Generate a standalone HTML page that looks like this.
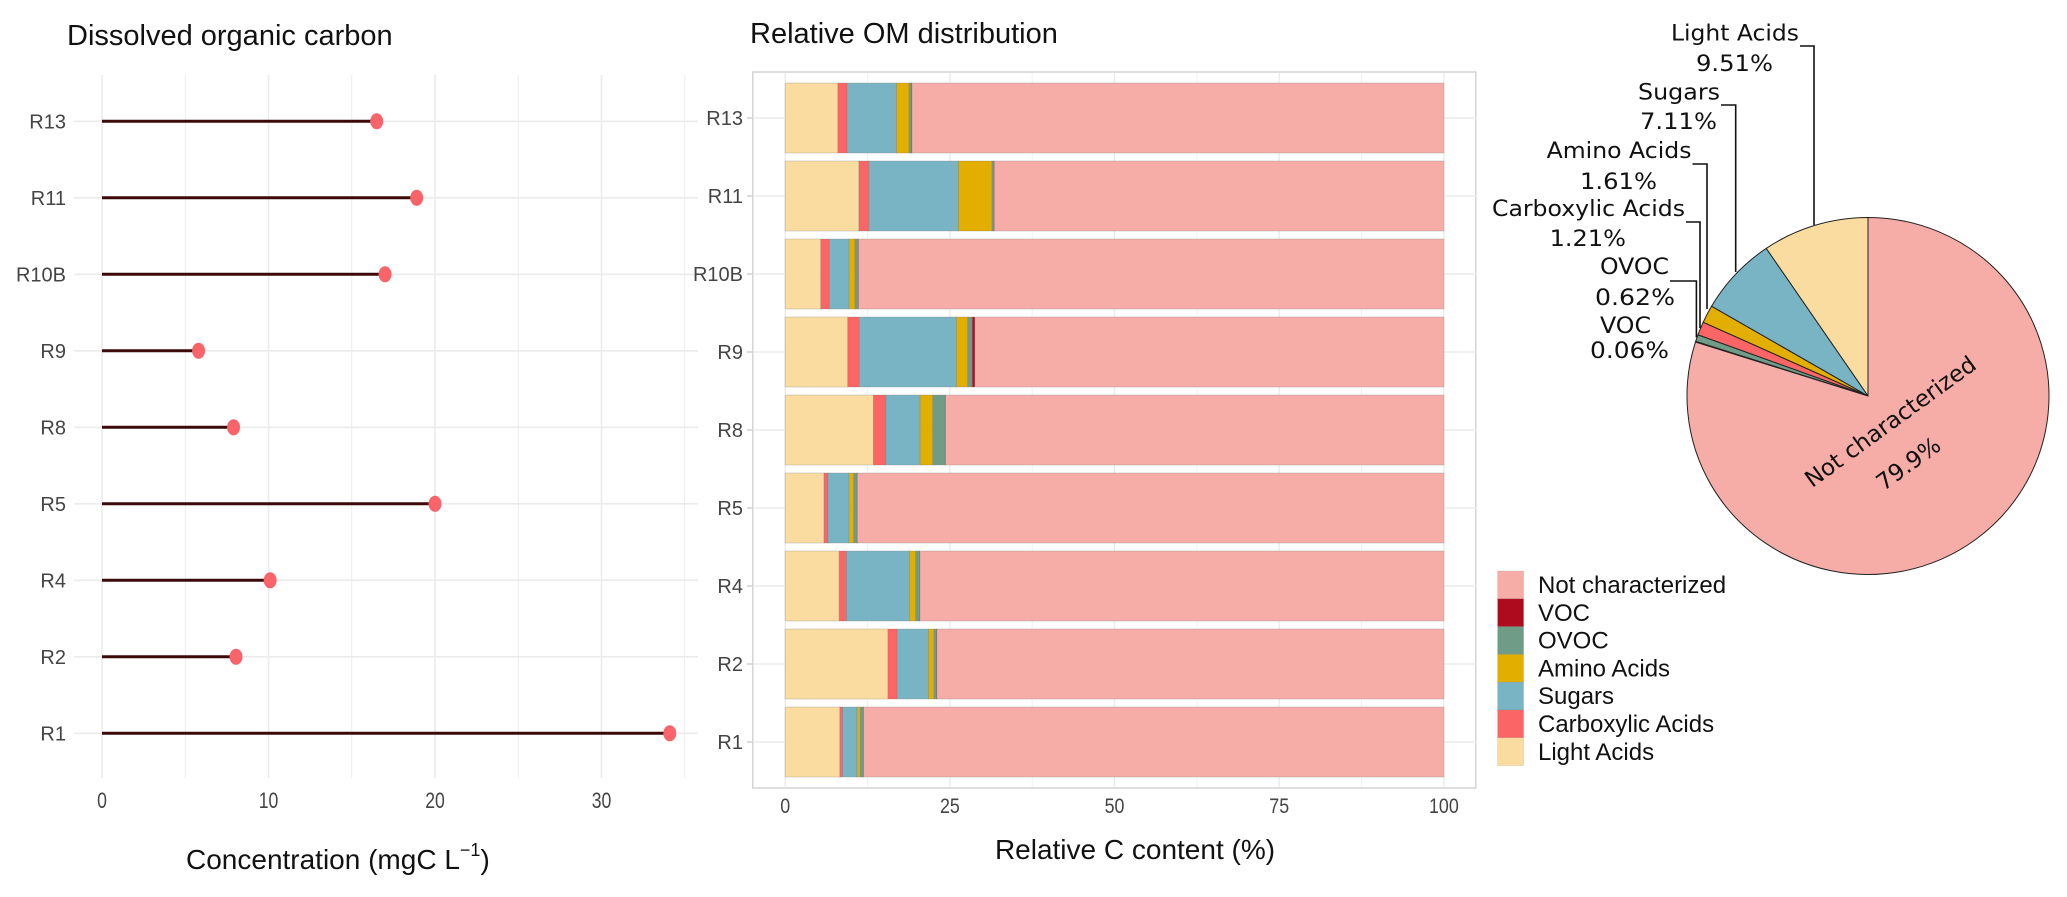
<!DOCTYPE html>
<html><head><meta charset="utf-8"><style>
html,body{margin:0;padding:0;background:#fff;}
svg{display:block;}
</style></head><body>
<svg id="root" xmlns="http://www.w3.org/2000/svg" width="2067" height="897" viewBox="0 0 2067 897" font-family="Liberation Sans, sans-serif">
<rect width="2067" height="897" fill="#fff"/>
<g id="left"></g>
<g id="mid"></g>
<g id="pie"></g>
</svg>
<script>
// ---- data ----
const sites = ["R13","R11","R10B","R9","R8","R5","R4","R2","R1"];
const docValues = [16.5,18.9,17.0,5.8,7.9,20.0,10.1,8.05,34.1];
const docTicks = [0,10,20,30];

const lightAcids = [8.0,11.2,5.4,9.5,13.4,5.9,8.2,15.6,8.3];
const carboxylic = [1.4,1.5,1.3,1.75,1.9,0.6,1.1,1.4,0.4];
const sugars = [7.5,13.6,3.0,14.75,5.2,3.2,9.6,4.75,2.2];
const aminoAcids = [1.9,5.1,0.9,1.7,1.9,0.7,0.9,0.85,0.5];
const ovoc = [0.4,0.3,0.5,0.7,1.9,0.5,0.6,0.4,0.45];
const voc = [0.05,0.05,0.05,0.4,0.05,0.05,0.05,0.05,0.05];
const notChar = [80.75,68.25,88.85,71.2,75.65,89.05,79.55,76.95,88.1];
const barTicks = [0,25,50,75,100];

const pieLabels = ["Light Acids","Sugars","Amino Acids","Carboxylic Acids","OVOC","VOC","Not characterized"];
const pieValues = [9.51,7.11,1.61,1.21,0.62,0.06,79.9];
const pieText = ["9.51%","7.11%","1.61%","1.21%","0.62%","0.06%","79.9%"];

const NS="http://www.w3.org/2000/svg";
function mk(parent,tag,attrs,text){const e=document.createElementNS(NS,tag);for(const k in attrs)e.setAttribute(k,attrs[k]);if(text!==undefined)e.textContent=text;parent.appendChild(e);return e;}

// ---- left lollipop ----
const L=document.getElementById('left');
const lx=v=>102+v*(601.5-102)/30;
const ly=i=>121.3+i*76.5;
for(let v=0;v<=35;v+=5){const g=mk(L,'line',{x1:lx(v),x2:lx(v),y1:75,y2:778,stroke:'#ebebeb','stroke-width':v%10===0?1.6:0.9});

}
sites.forEach((s,i)=>{const g=mk(L,'line',{x1:74,x2:698,y1:ly(i),y2:ly(i),stroke:'#ebebeb','stroke-width':1.6});

});
sites.forEach((s,i)=>{
 const t=mk(L,'text',{x:66,y:ly(i)+7,'text-anchor':'end','font-size':20,fill:'#444'},s);
 
 
 const ln=mk(L,'line',{x1:lx(0),x2:lx(docValues[i]),y1:ly(i),y2:ly(i),stroke:'#3c0a0a','stroke-width':3});
 
 
 const c=mk(L,'ellipse',{cx:lx(docValues[i]),cy:ly(i),rx:6.5,ry:8,fill:'#f8646a'});
 
 
});
docTicks.forEach(v=>{const t=mk(L,'text',{x:lx(v),y:808,'text-anchor':'middle','font-size':22,fill:'#444',transform:`translate(${lx(v)},0) scale(0.8,1) translate(${-lx(v)},0)`},String(v));

});
let t0=mk(L,'text',{x:67,y:45,'font-size':29,fill:'#111'},'Dissolved organic carbon');


let t1=mk(L,'text',{x:186,y:869,'font-size':28,fill:'#111'});


t1.innerHTML='Concentration (mgC L<tspan font-size="18" dy="-13">−1</tspan><tspan dy="13">)</tspan>';

// ---- middle stacked bars ----
const M=document.getElementById('mid');
const bx=v=>785.2+v*(1443.9-785.2)/100;
const by=i=>118+i*78;
const bh=70;
let pb=mk(M,'rect',{x:752.8,y:72,width:723,height:716,fill:'none',stroke:'#d4d4d4','stroke-width':1.5});


[12.5,37.5,62.5,87.5].forEach(v=>{const g=mk(M,'line',{x1:bx(v),x2:bx(v),y1:73,y2:787,stroke:'#f2f2f2','stroke-width':1});

});
barTicks.forEach(v=>{const g=mk(M,'line',{x1:bx(v),x2:bx(v),y1:73,y2:787,stroke:'#ebebeb','stroke-width':1.4});


const t=mk(M,'text',{x:bx(v),y:813,'text-anchor':'middle','font-size':21,fill:'#444',transform:`translate(${bx(v)},0) scale(0.85,1) translate(${-bx(v)},0)`},String(v));

});
const series=[lightAcids,carboxylic,sugars,aminoAcids,ovoc,voc,notChar];
const seriesNames=['light-acids','carboxylic-acids','sugars','amino-acids','ovoc','voc','not-characterized'];
const colors=['#fadca0','#fc6565','#79b4c4','#e2ae00','#6e9c86','#af0b1e','#f7ada7'];
sites.forEach((s,i)=>{
 const gl=mk(M,'line',{x1:753,x2:1476,y1:by(i),y2:by(i),stroke:'#ebebeb','stroke-width':1.4});
 
 
 const tk=mk(M,'line',{x1:747,x2:753,y1:by(i),y2:by(i),stroke:'#ccc','stroke-width':1.4});
 
 
 const t=mk(M,'text',{x:743,y:by(i)+7,'text-anchor':'end','font-size':20,fill:'#444'},s);
 
 
 let acc=0;
 series.forEach((arr,k)=>{
   const v=arr[i];
   const r=mk(M,'rect',{x:bx(acc),y:by(i)-bh/2,width:Math.max(0,bx(acc+v)-bx(acc)),height:bh,fill:colors[k],stroke:'rgba(120,120,120,0.35)','stroke-width':0.8});
   
   
   acc+=v;
 });
});
let t2=mk(M,'text',{x:750,y:43,'font-size':29,fill:'#111'},'Relative OM distribution');


let t3=mk(M,'text',{x:1135,y:859,'text-anchor':'middle','font-size':28,fill:'#111'},'Relative C content (%)');



// legend
const legNames=['Not characterized','VOC','OVOC','Amino Acids','Sugars','Carboxylic Acids','Light Acids'];
const legColors=['#f7ada7','#af0b1e','#6e9c86','#e2ae00','#79b4c4','#fc6565','#fadca0'];
legNames.forEach((n,k)=>{
 const y=571+k*27.8;
 const r=mk(M,'rect',{x:1497.6,y:y,width:26,height:27.8,fill:legColors[k],stroke:'rgba(120,120,120,0.25)','stroke-width':0.6});
 
 
 const t=mk(M,'text',{x:1538,y:y+22,'font-size':24,fill:'#111'},n);
 
 
});

// ---- pie ----
const P=document.getElementById('pie');
const cx=1868,cy=396,rx=181,ry=178.5;
const pieColors=['#fadca0','#79b4c4','#e2ae00','#fc6565','#6e9c86','#af0b1e','#f7ada7'];
const total=pieValues.reduce((a,b)=>a+b,0);
const pt=a=>[cx-rx*Math.sin(a),cy-ry*Math.cos(a)];
let ang=0;
pieValues.forEach((v,k)=>{
 const a0=ang,a1=ang+v/total*2*Math.PI; ang=a1;
 const p0=pt(a0),p1=pt(a1);
 const large=(a1-a0)>Math.PI?1:0;
 const p=mk(P,'path',{d:`M${cx},${cy}L${p0[0]},${p0[1]}A${rx},${ry} 0 ${large} 0 ${p1[0]},${p1[1]}Z`,fill:pieColors[k],stroke:'#222','stroke-width':1});
 
 
});
const callouts=[
 {l1y:32.6,l2y:63,x1:1671,x2:1799,x3:1696,x4:1773,ly:46,vx:1814,vy:225},
 {l1y:91.5,l2y:121,x1:1638,x2:1720,x3:1640,x4:1717,ly:105,vx:1735.7,vy:272},
 {l1y:150,l2y:181,x1:1546.6,x2:1691.5,x3:1580,x4:1657,ly:164,vx:1707,vy:309},
 {l1y:208,l2y:238,x1:1492,x2:1685,x3:1549.6,x4:1626,ly:222,vx:1700,vy:328},
 {l1y:266,l2y:297,x1:1600,x2:1669,x3:1595,x4:1675,ly:281,vx:1696.4,vy:337.5},
 {l1y:325,l2y:350,x1:1600,x2:1651,x3:1590,x4:1669,ly:null,vx:null,vy:null}
];
callouts.forEach((c,k)=>{
 const a=mk(P,'text',{x:c.x1,y:c.l1y+8,'font-family':'DejaVu Sans, sans-serif','font-size':22,fill:'#111',textLength:c.x2-c.x1,lengthAdjust:'spacingAndGlyphs'},pieLabels[k]);
 
 
 const b=mk(P,'text',{x:c.x3,y:c.l2y+8,'font-family':'DejaVu Sans, sans-serif','font-size':22,fill:'#111',textLength:c.x4-c.x3,lengthAdjust:'spacingAndGlyphs'},pieText[k]);
 
 
 if(c.ly!==null){
  const pl=mk(P,'polyline',{points:`${c.x2+1},${c.ly} ${c.vx},${c.ly} ${c.vx},${c.vy}`,fill:'none',stroke:'#111','stroke-width':1.6});
  
  
 }
});
const nc=mk(P,'text',{x:0,y:0,'font-family':'DejaVu Sans, sans-serif','font-size':23,fill:'#111','text-anchor':'middle',transform:'translate(1895,428) rotate(-36)'},pieLabels[6]);


const nv=mk(P,'text',{x:0,y:0,'font-family':'DejaVu Sans, sans-serif','font-size':23,fill:'#111','text-anchor':'middle',transform:'translate(1913,470) rotate(-36)'},pieText[6]);


</script>
</body></html>
